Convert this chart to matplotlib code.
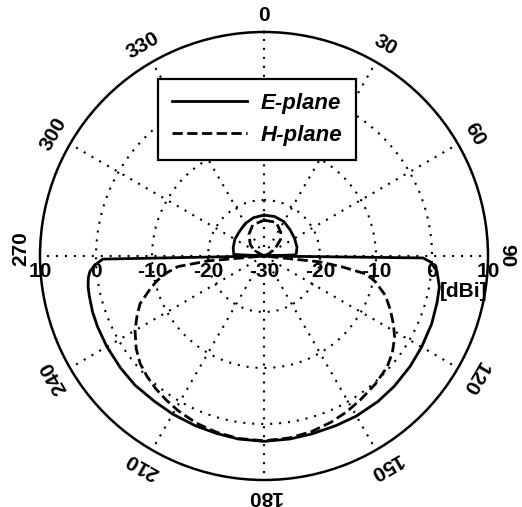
import matplotlib.pyplot as plt
import numpy as np

plt.rcParams['font.family'] = ['Liberation Sans', 'DejaVu Sans']

# E-plane pattern (angle in deg, clockwise from top; gain in dBi)
e_angle = [0, 15, 30, 45, 60, 75, 85, 88, 89, 90.7, 92, 95, 100, 105, 112, 120,
           127, 135, 142, 150, 157, 165, 172, 180, 188, 195, 202, 210, 217, 225,
           232, 240, 247, 252, 257, 260, 263, 265, 267, 268.9, 271, 273, 285,
           300, 315, 330, 345, 360]
e_gain = [-22.7, -22.7, -22.9, -23.4, -23.7, -23.9, -24.2, -24.4, -30, -1.6, -0.3,
          1.0, 1.8, 2.0, 2.3, 2.5, 2.7, 2.9, 3.0, 3.0, 2.9, 2.9, 3.0, 3.1, 3.0,
          2.8, 2.7, 2.6, 2.5, 2.6, 2.5, 2.4, 2.3, 2.2, 2.0, 1.9, 1.6, 1.2, 0.2,
          -1.2, -30, -24.6, -24.3, -24.0, -23.8, -23.3, -22.9, -22.7]

# H-plane pattern
h_angle = [0, 20, 35, 45, 55, 65, 75, 92, 96, 98, 100, 103, 108, 113, 118, 122,
           127, 132, 139, 146, 152, 158, 165, 172, 180, 188, 195, 202, 209, 214,
           219, 224, 229, 234, 240, 245, 249, 254, 257, 260, 263, 265, 268, 285,
           300, 310, 325, 340, 360]
h_gain = [-23.6, -23.6, -24.8, -25.8, -27.5, -29, -30, -30, -20, -15.8, -11.5,
          -9.6, -7.2, -5.5, -3.8, -2.5, -1.3, -0.4, 0.3, 0.9, 1.5, 2.0, 2.5, 2.8,
          3.0, 2.9, 2.6, 2.2, 1.6, 1.1, 0.6, 0.0, -0.7, -1.8, -3.4, -5.0, -6.3,
          -8.9, -10.4, -12.2, -14.5, -20, -30, -30, -28, -26.8, -25.3, -24.1, -23.6]

r_min, r_max = -30, 10
ring_values = [-20, -10, 0]
ring_labels = ['10', '0', '-10', '-20', '-30', '-20', '-10', '0', '10']
ring_label_r = [10, 0, -10, -20, -30, -20, -10, 0, 10]
angle_ticks = list(range(0, 360, 30))

fig = plt.figure(figsize=(5.22, 5.07), dpi=100)
ax = fig.add_axes([40 / 522, 1 - 480 / 507, 448 / 522, 448 / 507], projection='polar')
ax.set_theta_zero_location('N')
ax.set_theta_direction(-1)
ax.set_ylim(r_min, r_max)

# grid: dotted rings and spokes
ax.set_rgrids(ring_values, labels=[''] * len(ring_values))
ax.set_thetagrids(angle_ticks, labels=[''] * len(angle_ticks))
ax.grid(True, color='black', linestyle=(0, (1, 3.3)), linewidth=1.5)
ax.spines['polar'].set_linewidth(1.8)
ax.spines['polar'].set_color('black')

line_e, = ax.plot(np.deg2rad(e_angle), e_gain, color='black', linewidth=2.0, label='E-plane')
line_h, = ax.plot(np.deg2rad(h_angle), h_gain, color='black', linewidth=2.0,
                  linestyle='--', label='H-plane')

# angle labels, tangential like MATLAB polar
for a in angle_ticks:
    frac = 0.072 if a in (0, 180) else 0.085
    dy = 5 if a == 270 else 0
    ax.annotate(str(a), xy=(np.deg2rad(a), r_max + frac * (r_max - r_min)),
                xytext=(0, dy), textcoords='offset points', rotation=-a,
                rotation_mode='anchor', ha='center', va='center', fontsize=15,
                fontweight='bold', annotation_clip=False)

# radial labels along horizontal axis
for i, (lab, rv) in enumerate(zip(ring_labels, ring_label_r)):
    th = np.deg2rad(270) if i < 4 else np.deg2rad(90)
    ax.annotate(lab, xy=(th, rv), xytext=(0, -4), textcoords='offset points',
                ha='center', va='top', fontsize=15, fontweight='bold',
                annotation_clip=False)
ax.text(0.945, 0.42, '[dBi]', transform=ax.transAxes, ha='center', va='center',
        fontsize=15, fontweight='bold')

leg = fig.legend(handles=[line_e, line_h], loc='upper left',
                 bbox_to_anchor=(158 / 522, 1 - 79 / 507), borderaxespad=0,
                 fancybox=False, edgecolor='black', framealpha=1,
                 handlelength=3.4, handletextpad=0.6, borderpad=0.62,
                 labelspacing=0.5, prop={'size': 16, 'style': 'italic', 'weight': 'bold'})
leg.get_frame().set_linewidth(1.6)

fig.savefig('out.png', dpi=100)
